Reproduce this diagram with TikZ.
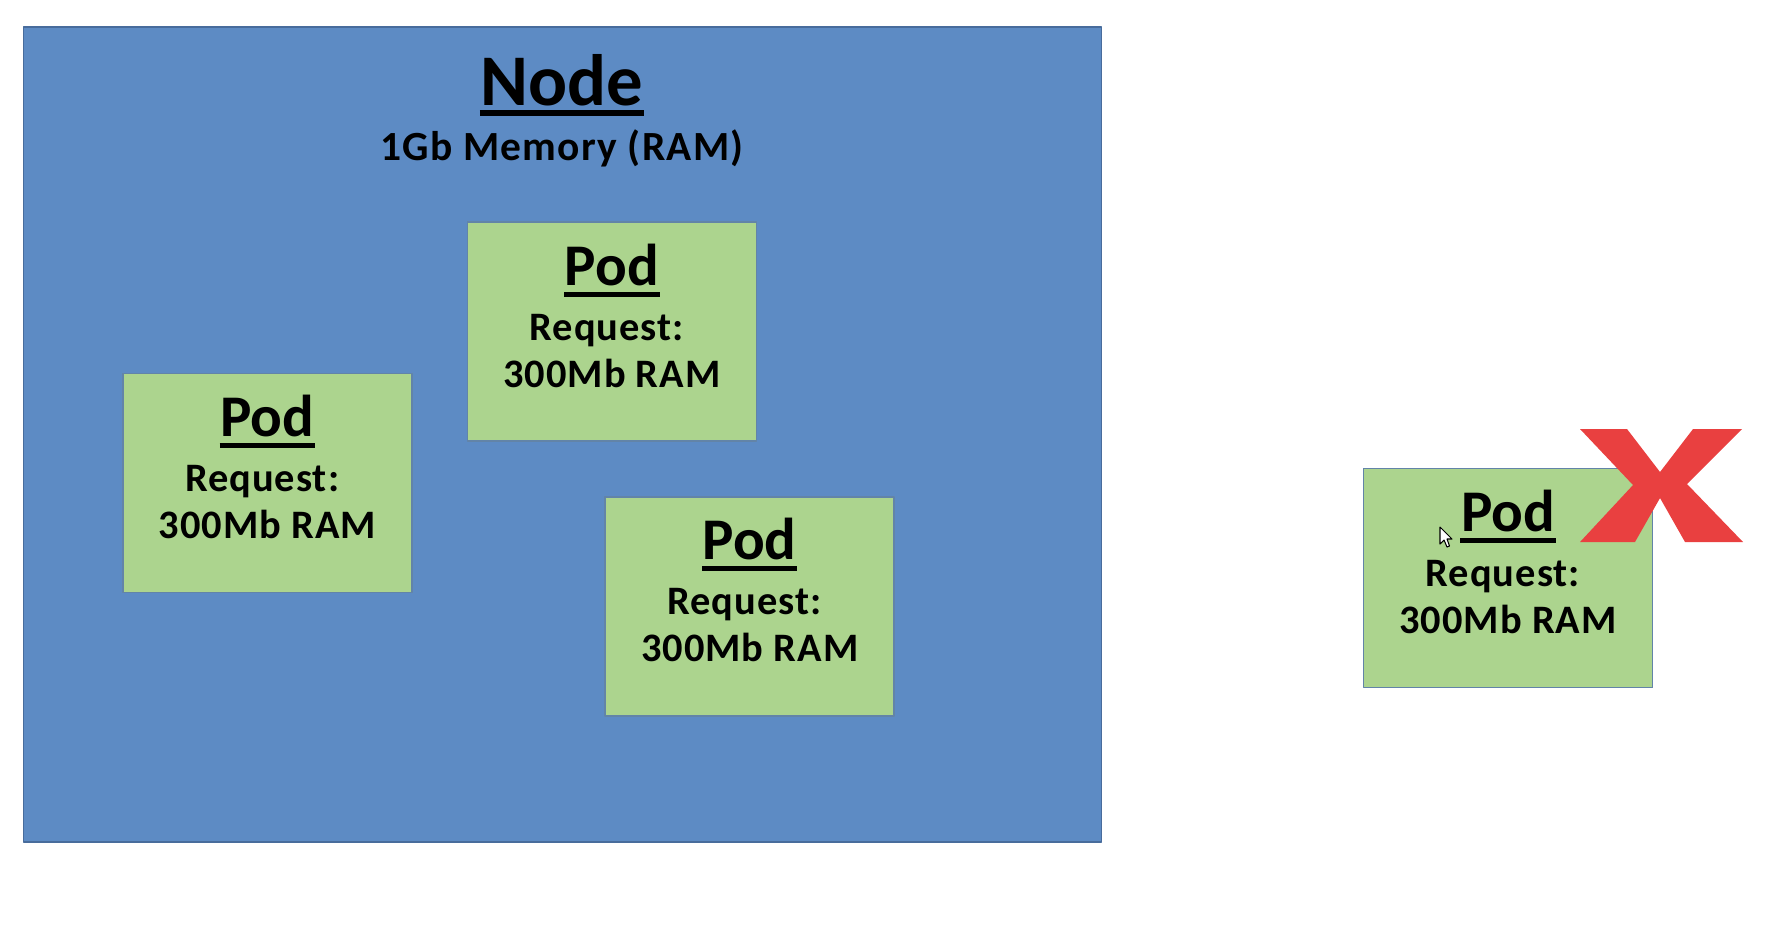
\documentclass[tikz,border=0pt]{standalone}
\usepackage{fontspec}
\setmainfont{Carlito}
\usetikzlibrary{calc}
\definecolor{nodeblue}{RGB}{93,139,196}
\definecolor{nodeline}{RGB}{72,108,156}
\definecolor{podgreen}{RGB}{172,212,142}
\definecolor{podline}{RGB}{98,132,168}
\definecolor{crossred}{RGB}{233,64,64}
\begin{document}
\begin{tikzpicture}[x=0.1mm,y=-0.1mm,line join=round,
    nodebox/.style={draw=nodeline,fill=nodeblue,line width=0.5pt,inner sep=0pt,
      minimum width=107.8mm,minimum height=81.5mm},
    podbox/.style={draw=podline,fill=podgreen,line width=0.5pt,inner sep=0pt,
      minimum width=28.9mm,minimum height=21.9mm},
    bigtitle/.style={inner sep=0pt,font=\fontsize{20.7}{24}\selectfont\bfseries},
    subtitle/.style={inner sep=0pt,font=\fontsize{11.8}{14}\selectfont\bfseries\addfontfeature{LetterSpace=3}},
    podtitle/.style={inner sep=0pt,font=\fontsize{16.8}{19}\selectfont\bfseries},
    podtext/.style={inner sep=0pt,font=\fontsize{11.5}{13}\selectfont\bfseries\addfontfeature{LetterSpace=2.5}}]
    \useasboundingbox (0,0) rectangle (1771,945);
    % the node and its memory
    \node[nodebox,anchor=north west] (node) at (22.6,26) {};
    \node[bigtitle,anchor=base] (nodetitle) at (562,105) {Node};
    \draw[line width=1.7pt] ($(nodetitle.base west)+(0,8)$) -- ($(nodetitle.base east)+(0,8)$);
    \node[subtitle,anchor=base] (nodemem) at (562,160) {1Gb Memory (RAM)};
    % pods
    \node[podbox,anchor=north west] (pod1) at (466.5,221.4) {};
    \node[podbox,anchor=north west] (pod2) at (122,372.7) {};
    \node[podbox,anchor=north west] (pod3) at (604.3,495.8) {};
    \node[podbox,anchor=north west] (pod4) at (1362.7,467.7) {};
    \foreach \p in {pod1,pod2,pod3,pod4}{
        \node[podtitle,anchor=base] (\p-title) at ($(\p.north)+(0,64)$) {Pod};
        \draw[line width=1.4pt] ($(\p-title.base west)+(0,9)$) -- ($(\p-title.base east)+(0,9)$);
        \node[podtext,anchor=base] (\p-req) at ($(\p.north)+(0,119)$) {Request:\kern3pt};
        \node[podtext,anchor=base] (\p-ram) at ($(\p.north)+(0,166)$) {300Mb RAM};
    }
    % pointer
    \filldraw[fill=white,draw=black,line width=0.3pt]
        (1440,527) -- (1440,544) -- (1444,540) -- (1447,547) -- (1449.5,546)
        -- (1447,539) -- (1452,539) -- cycle;
    % red cross
    \fill[crossred] (1580,429) -- (1627,429) -- (1660,472) -- (1693,429) -- (1742,429)
        -- (1687,484) -- (1743,542) -- (1685,542) -- (1660,498) -- (1635,542)
        -- (1580,542) -- (1633,485) -- cycle;
\end{tikzpicture}
\end{document}
